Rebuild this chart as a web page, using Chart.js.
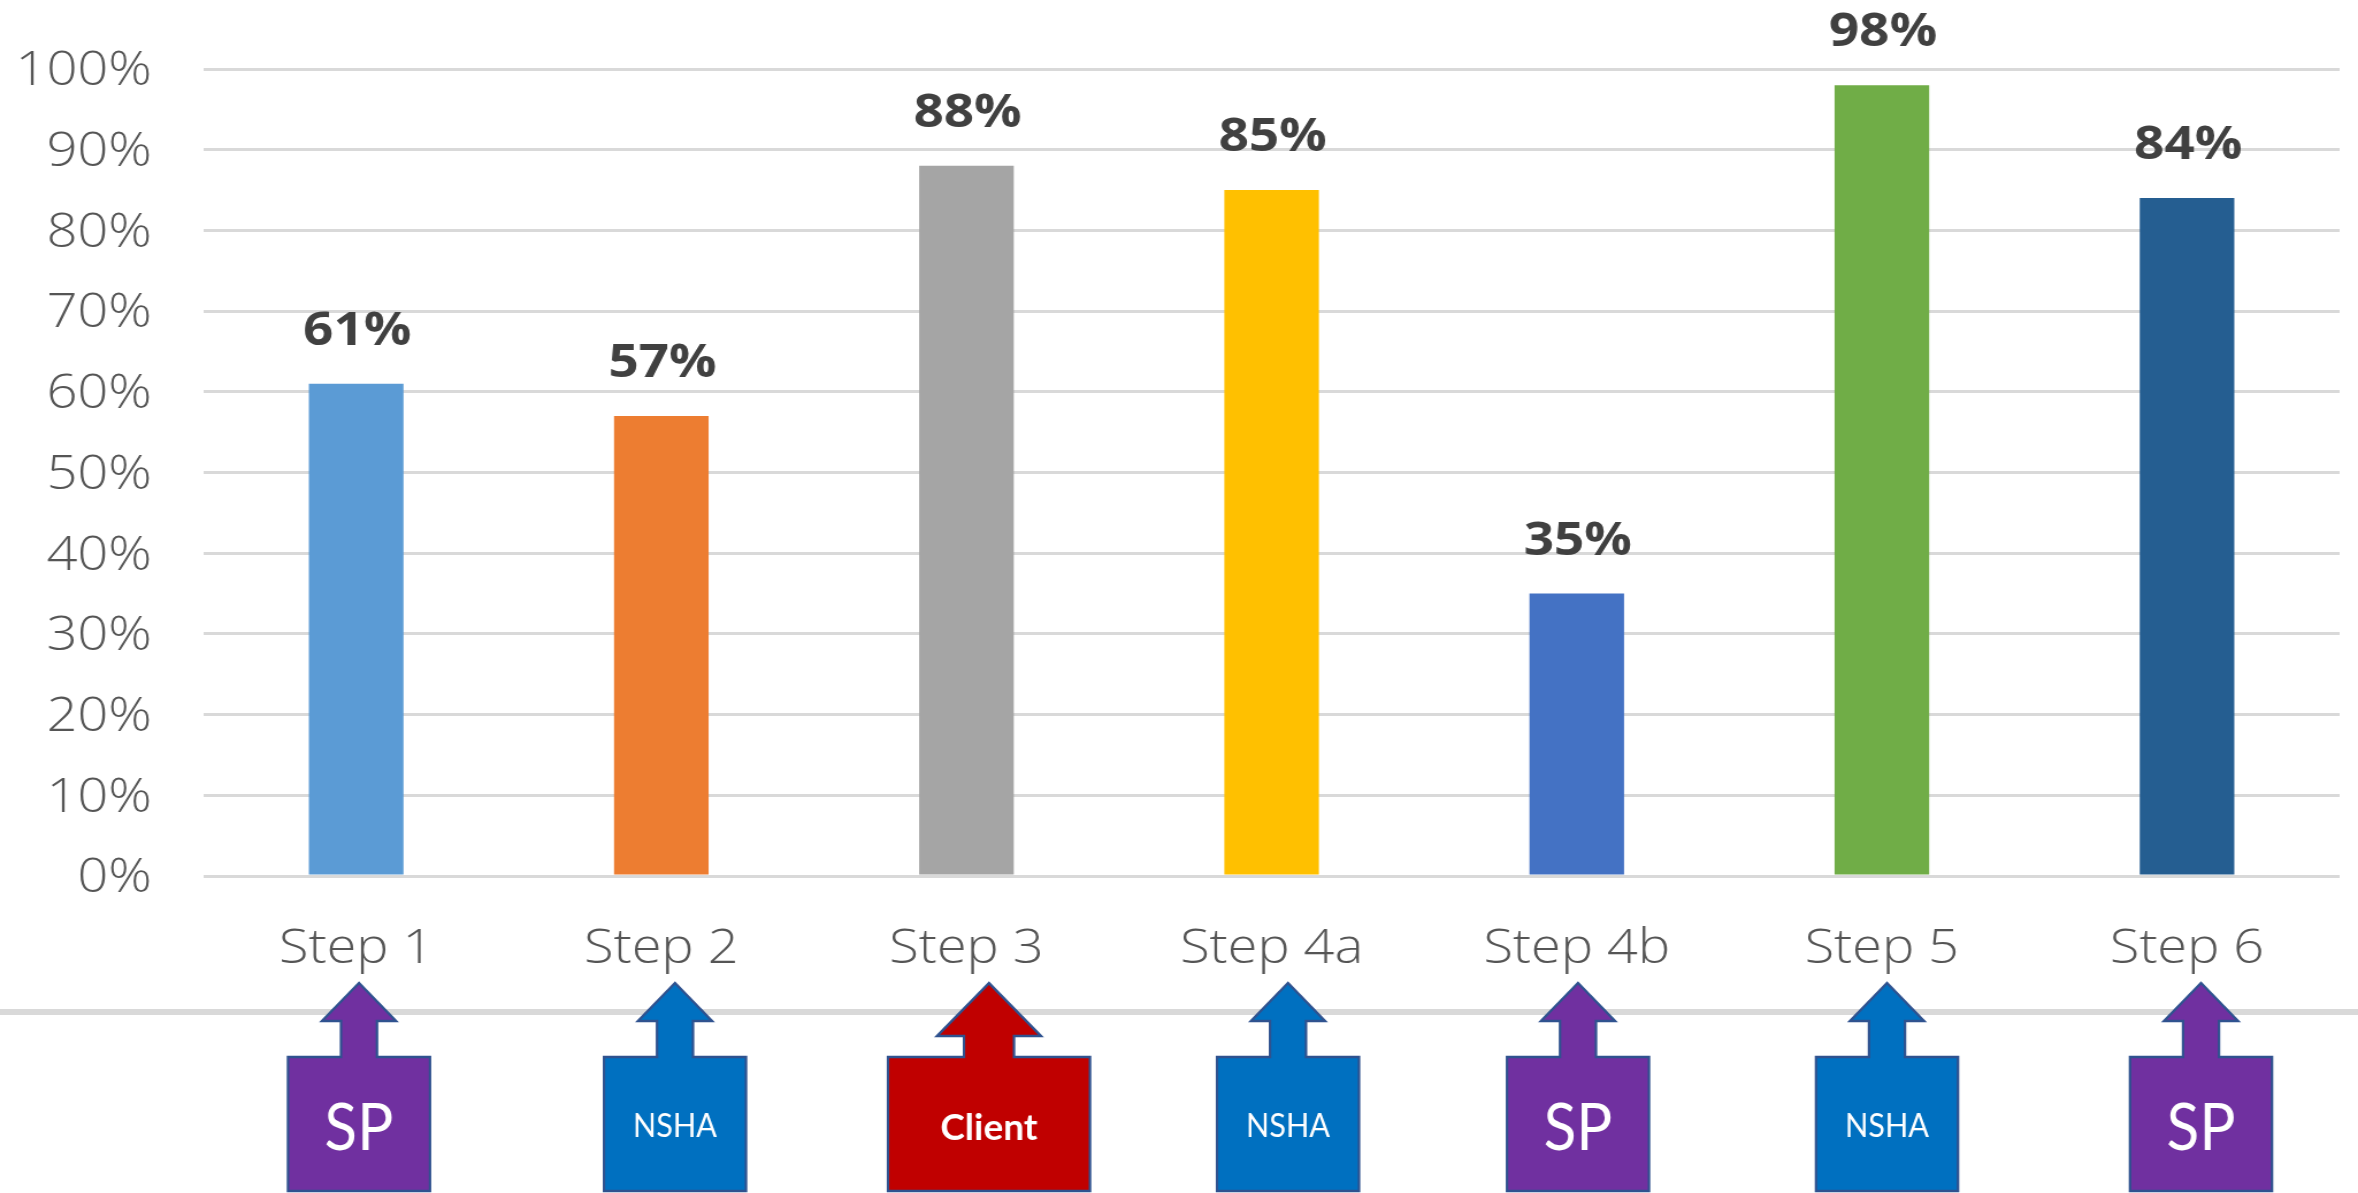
<!DOCTYPE html>
<html>
<head>
<meta charset="utf-8">
<title>Steps</title>
<script src="https://cdn.jsdelivr.net/npm/chart.js@4"></script>
<style>
  html, body { margin: 0; padding: 0; background: #fff; overflow: hidden; }
</style>
</head>
<body>
<!-- the picture is stretched sideways, so the canvas is too -->
<canvas id="stepsChart" width="2050" height="1193" style="display:block;width:2358px;height:1193px"></canvas>
<script>
const categories = ['Step 1', 'Step 2', 'Step 3', 'Step 4a', 'Step 4b', 'Step 5', 'Step 6'];
const percentValues = [61, 57, 88, 85, 35, 98, 84];
const tickLabels = ['0%', '10%', '20%', '30%', '40%', '50%', '60%', '70%', '80%', '90%', '100%'];
const owners = ['SP', 'NSHA', 'Client', 'NSHA', 'SP', 'NSHA', 'SP'];

const barColors = ['#5B9BD5', '#ED7D31', '#A5A5A5', '#FFC000', '#4472C4', '#70AD47', '#255E91'];
const ownerStyles = {
    SP: { fill: '#7030A0', font: '400 66px Lato', textWidth: 69, baseline: 1150 },
    NSHA: { fill: '#0070C0', font: '400 33px Lato', textWidth: 84, baseline: 1137 },
    Client: { fill: '#C00000', font: '700 37px Lato', textWidth: 99, baseline: 1140 }
};
const calloutCentres = [359, 675, 989, 1288, 1578, 1887, 2201];

const STRETCH = 2358 / 2050;

function drawCallout(ctx, cx, big, fill) {
    const boxHalf = big ? 101 : 71;
    const shaftHalf = big ? 25 : 18;
    const headHalf = big ? 52 : 37;
    const headBase = big ? 1036 : 1021;
    const boxTop = 1057, boxBottom = 1191, tip = 983;
    ctx.beginPath();
    ctx.moveTo(cx - boxHalf, boxBottom);
    ctx.lineTo(cx - boxHalf, boxTop);
    ctx.lineTo(cx - shaftHalf, boxTop);
    ctx.lineTo(cx - shaftHalf, headBase);
    ctx.lineTo(cx - headHalf, headBase);
    ctx.lineTo(cx, tip);
    ctx.lineTo(cx + headHalf, headBase);
    ctx.lineTo(cx + shaftHalf, headBase);
    ctx.lineTo(cx + shaftHalf, boxTop);
    ctx.lineTo(cx + boxHalf, boxTop);
    ctx.lineTo(cx + boxHalf, boxBottom);
    ctx.closePath();
    ctx.fillStyle = fill;
    ctx.fill();
    ctx.lineWidth = 2.5;
    ctx.strokeStyle = '#2F528F';
    ctx.stroke();
}

const calloutsPlugin = {
    id: 'callouts',
    afterDraw(chart) {
        const ctx = chart.ctx;
        ctx.save();
        // these shapes were not stretched, so draw them in page pixels
        ctx.scale(1 / STRETCH, 1);
        ctx.fillStyle = '#D9D9D9';
        ctx.fillRect(0, 1009, 2358, 6);
        owners.forEach((owner, i) => {
            const style = ownerStyles[owner];
            const cx = calloutCentres[i];
            drawCallout(ctx, cx, owner === 'Client', style.fill);
            ctx.fillStyle = '#fff';
            ctx.font = style.font;
            ctx.textAlign = 'center';
            ctx.textBaseline = 'alphabetic';
            ctx.fillText(owner, cx, style.baseline, style.textWidth);
        });
        ctx.restore();
    }
};

const barLabelsPlugin = {
    id: 'barLabels',
    afterDatasetsDraw(chart) {
        const ctx = chart.ctx;
        ctx.save();
        ctx.fillStyle = '#404040';
        ctx.font = '700 46px "Open Sans"';
        ctx.textAlign = 'center';
        ctx.textBaseline = 'alphabetic';
        chart.getDatasetMeta(0).data.forEach((bar, i) => {
            ctx.fillText(percentValues[i] + '%', bar.x + 1, bar.y - 39);
        });
        ctx.restore();
    }
};

new Chart(document.getElementById('stepsChart').getContext('2d'), {
    type: 'bar',
    data: {
        labels: categories,
        datasets: [{
            data: percentValues,
            backgroundColor: barColors,
            barPercentage: 0.31,
            categoryPercentage: 1
        }]
    },
    plugins: [barLabelsPlugin, calloutsPlugin],
    options: {
        responsive: false,
        animation: false,
        devicePixelRatio: 1,
        layout: { padding: { top: 69, right: 16, left: 0, bottom: 0 } },
        plugins: { legend: { display: false }, tooltip: { enabled: false } },
        scales: {
            x: {
                afterFit(scale) { scale.height = 317; },
                grid: { display: false },
                border: { display: false },
                ticks: {
                    color: '#555555',
                    padding: 37,
                    maxRotation: 0,
                    font: { family: 'Open Sans', size: 47, weight: '300' }
                }
            },
            y: {
                min: 0,
                max: 100,
                afterFit(scale) { scale.width = 177; },
                border: { display: false },
                grid: { color: '#D9D9D9', lineWidth: 3, drawTicks: false },
                ticks: {
                    stepSize: 10,
                    color: '#555555',
                    padding: 45,
                    labelOffset: 3,
                    // lineHeight 1 keeps the tick padding from pushing the top of the plot down
                    font: { family: 'Open Sans', size: 47, weight: '300', lineHeight: 1 },
                    callback: (value, index) => tickLabels[index]
                }
            }
        }
    }
});
</script>
</body>
</html>
